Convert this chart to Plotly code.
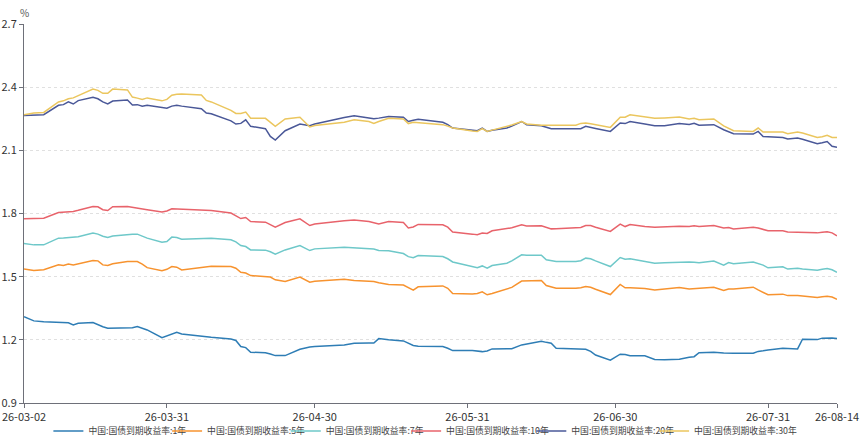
import plotly.graph_objects as go
import pandas as pd

start_date = "2026-03-02"
day_offsets = [0, 2, 4, 7, 8, 9, 10, 11, 14, 15, 16, 17, 18, 21, 22, 23, 24, 25, 28, 29,
               30, 31, 32, 36, 37, 38, 42, 43, 44, 45, 46, 49, 50, 51, 53, 56, 58, 59, 65, 67,
               70, 71, 72, 74, 77, 78, 79, 80, 85, 86, 87, 91, 92, 93, 94, 95, 98, 99, 101, 102,
               105, 106, 107, 108, 112, 113, 114, 115, 116, 119, 121, 122, 123, 126, 128, 130, 133, 135, 136, 137,
               140, 142, 143, 144, 148, 149, 150, 151, 154, 155, 157, 158, 161, 162, 163, 164, 165]

y1 = [1.310, 1.290, 1.286, 1.283, 1.282, 1.281, 1.271, 1.279, 1.282, 1.271, 1.262, 1.255, 1.256, 1.256, 1.257, 1.263, 1.255, 1.247, 1.210, 1.218,
      1.228, 1.236, 1.228, 1.216, 1.213, 1.212, 1.204, 1.197, 1.168, 1.163, 1.141, 1.139, 1.133, 1.125, 1.125, 1.155, 1.166, 1.168, 1.175, 1.184,
      1.185, 1.185, 1.206, 1.200, 1.195, 1.185, 1.173, 1.170, 1.168, 1.160, 1.149, 1.149, 1.146, 1.144, 1.147, 1.157, 1.158, 1.158, 1.176, 1.180,
      1.193, 1.188, 1.184, 1.160, 1.158, 1.158, 1.155, 1.145, 1.128, 1.103, 1.132, 1.130, 1.124, 1.124, 1.107, 1.105, 1.108, 1.117, 1.120, 1.139,
      1.141, 1.137, 1.136, 1.136, 1.136, 1.145, 1.148, 1.152, 1.160, 1.160, 1.157, 1.203, 1.201, 1.208, 1.210, 1.209, 1.206]

y5 = [1.537, 1.529, 1.533, 1.556, 1.553, 1.560, 1.555, 1.560, 1.577, 1.575, 1.556, 1.553, 1.561, 1.572, 1.572, 1.572, 1.560, 1.543, 1.528, 1.535,
      1.548, 1.545, 1.532, 1.546, 1.548, 1.550, 1.548, 1.540, 1.521, 1.517, 1.505, 1.499, 1.498, 1.485, 1.477, 1.498, 1.474, 1.478, 1.488, 1.482,
      1.479, 1.477, 1.471, 1.463, 1.460, 1.446, 1.436, 1.452, 1.456, 1.445, 1.420, 1.418, 1.420, 1.428, 1.414, 1.420, 1.440, 1.449, 1.479, 1.480,
      1.482, 1.458, 1.450, 1.445, 1.445, 1.447, 1.453, 1.450, 1.440, 1.415, 1.463, 1.447, 1.447, 1.444, 1.437, 1.441, 1.448, 1.441, 1.443, 1.445,
      1.450, 1.434, 1.441, 1.442, 1.450, 1.437, 1.426, 1.414, 1.417, 1.410, 1.410, 1.408, 1.401, 1.405, 1.407, 1.403, 1.393]

y7 = [1.657, 1.651, 1.651, 1.683, 1.684, 1.685, 1.686, 1.690, 1.707, 1.702, 1.692, 1.686, 1.693, 1.702, 1.702, 1.702, 1.692, 1.683, 1.664, 1.667,
      1.688, 1.686, 1.678, 1.682, 1.683, 1.683, 1.675, 1.665, 1.648, 1.643, 1.627, 1.626, 1.618, 1.607, 1.627, 1.648, 1.624, 1.632, 1.640, 1.638,
      1.633, 1.631, 1.624, 1.623, 1.610, 1.595, 1.590, 1.600, 1.596, 1.585, 1.570, 1.547, 1.543, 1.551, 1.540, 1.553, 1.564, 1.575, 1.604, 1.602,
      1.602, 1.580, 1.576, 1.572, 1.572, 1.576, 1.588, 1.585, 1.575, 1.548, 1.591, 1.583, 1.585, 1.573, 1.564, 1.566, 1.570, 1.570, 1.568, 1.566,
      1.574, 1.555, 1.567, 1.561, 1.570, 1.564, 1.555, 1.542, 1.547, 1.536, 1.540, 1.537, 1.531, 1.535, 1.539, 1.533, 1.521]

y10 = [1.775, 1.777, 1.778, 1.805, 1.806, 1.808, 1.810, 1.815, 1.833, 1.832, 1.818, 1.814, 1.832, 1.833, 1.830, 1.826, 1.821, 1.818, 1.807, 1.812,
       1.822, 1.821, 1.820, 1.816, 1.815, 1.814, 1.802, 1.790, 1.776, 1.781, 1.762, 1.759, 1.748, 1.735, 1.757, 1.775, 1.743, 1.750, 1.765, 1.769,
       1.762, 1.757, 1.750, 1.762, 1.757, 1.731, 1.736, 1.748, 1.746, 1.735, 1.712, 1.702, 1.699, 1.707, 1.705, 1.718, 1.726, 1.732, 1.746, 1.741,
       1.742, 1.733, 1.727, 1.728, 1.732, 1.734, 1.743, 1.743, 1.735, 1.715, 1.750, 1.738, 1.748, 1.738, 1.735, 1.737, 1.740, 1.738, 1.742, 1.738,
       1.743, 1.731, 1.733, 1.726, 1.735, 1.731, 1.725, 1.718, 1.718, 1.712, 1.711, 1.710, 1.708, 1.711, 1.713, 1.708, 1.694]

y20 = [2.266, 2.266, 2.269, 2.314, 2.317, 2.330, 2.320, 2.336, 2.352, 2.345, 2.330, 2.320, 2.334, 2.339, 2.315, 2.317, 2.309, 2.314, 2.302, 2.300,
       2.310, 2.314, 2.310, 2.298, 2.277, 2.274, 2.240, 2.225, 2.228, 2.245, 2.214, 2.203, 2.166, 2.149, 2.193, 2.225, 2.217, 2.225, 2.256, 2.264,
       2.254, 2.250, 2.253, 2.261, 2.257, 2.237, 2.243, 2.247, 2.233, 2.222, 2.206, 2.196, 2.193, 2.206, 2.190, 2.195, 2.206, 2.215, 2.237, 2.222,
       2.217, 2.210, 2.203, 2.203, 2.203, 2.203, 2.214, 2.208, 2.204, 2.190, 2.230, 2.227, 2.237, 2.225, 2.217, 2.217, 2.227, 2.223, 2.228, 2.219,
       2.222, 2.198, 2.190, 2.179, 2.177, 2.190, 2.166, 2.165, 2.161, 2.154, 2.158, 2.153, 2.131, 2.136, 2.142, 2.119, 2.114]

y30 = [2.269, 2.277, 2.280, 2.330, 2.335, 2.345, 2.349, 2.360, 2.391, 2.385, 2.371, 2.371, 2.391, 2.387, 2.353, 2.348, 2.342, 2.349, 2.335, 2.342,
       2.362, 2.366, 2.367, 2.363, 2.337, 2.330, 2.290, 2.275, 2.275, 2.282, 2.252, 2.252, 2.235, 2.214, 2.249, 2.257, 2.211, 2.218, 2.233, 2.245,
       2.237, 2.228, 2.237, 2.252, 2.249, 2.227, 2.233, 2.231, 2.222, 2.215, 2.206, 2.192, 2.190, 2.203, 2.190, 2.196, 2.214, 2.220, 2.237, 2.225,
       2.219, 2.219, 2.219, 2.222, 2.219, 2.228, 2.230, 2.226, 2.222, 2.209, 2.257, 2.257, 2.269, 2.258, 2.252, 2.254, 2.258, 2.249, 2.252, 2.245,
       2.249, 2.216, 2.206, 2.193, 2.190, 2.206, 2.187, 2.187, 2.187, 2.179, 2.187, 2.182, 2.161, 2.165, 2.171, 2.161, 2.161]

series_names = ["中国:国债到期收益率:1年", "中国:国债到期收益率:5年", "中国:国债到期收益率:7年",
                "中国:国债到期收益率:10年", "中国:国债到期收益率:20年", "中国:国债到期收益率:30年"]
series_values = [y1, y5, y7, y10, y20, y30]
colors = ["#2e7db5", "#f7932f", "#6ec8c9", "#e8636b", "#4a5898", "#ebc65e"]

x_tick_dates = ["2026-03-02", "2026-03-31", "2026-04-30", "2026-05-31", "2026-06-30", "2026-07-31", "2026-08-14"]
x_tick_labels = ["26-03-02", "26-03-31", "26-04-30", "26-05-31", "26-06-30", "26-07-31", "26-08-14"]
y_ticks = [0.9, 1.2, 1.5, 1.8, 2.1, 2.4, 2.7]

dates = pd.Timestamp(start_date) + pd.to_timedelta(day_offsets, unit="D")

font_family = "Noto Sans CJK SC, Noto Sans, sans-serif"

# legend entry positions (fraction of plot width), one legend per series
legend_x = [0.030, 0.176, 0.322, 0.470, 0.624, 0.775]

fig = go.Figure()
legend_layouts = {}
for i, (name, vals, col) in enumerate(zip(series_names, series_values, colors)):
    key = "legend" if i == 0 else f"legend{i + 1}"
    fig.add_trace(go.Scatter(x=dates, y=vals, mode="lines", name=name,
                             line=dict(color=col, width=1.5), legend=key))
    legend_layouts[key] = dict(orientation="h", x=legend_x[i], xanchor="left",
                               y=-0.074, yanchor="middle", itemwidth=30,
                               font=dict(size=8.8, color="#444"),
                               bgcolor="rgba(0,0,0,0)", borderwidth=0)

fig.update_layout(
    width=865, height=439,
    margin=dict(l=24, r=28, t=24, b=36, autoexpand=False),
    paper_bgcolor="white", plot_bgcolor="white",
    font=dict(family=font_family, size=11, color="#333"),
    showlegend=True,
    xaxis=dict(type="date", range=[pd.Timestamp("2026-03-02"), pd.Timestamp("2026-08-14")],
               tickvals=[pd.Timestamp(d) for d in x_tick_dates], ticktext=x_tick_labels,
               showgrid=False, showline=True, linecolor="#6e7079", linewidth=1,
               ticks="outside", ticklen=4, tickcolor="#6e7079", automargin=False,
               tickfont=dict(size=11, color="#333"), zeroline=False),
    yaxis=dict(range=[0.9, 2.7], tickvals=y_ticks, ticktext=[f"{v:.1f}" for v in y_ticks],
               showgrid=True, gridcolor="#e0e0e0", griddash="dot", gridwidth=1,
               showline=True, linecolor="#6e7079", linewidth=1, automargin=False,
               ticks="outside", ticklen=4, tickcolor="#6e7079",
               tickfont=dict(size=11, color="#333"), zeroline=False),
    annotations=[dict(text="%", xref="paper", yref="paper", x=0, y=1, xanchor="center",
                      yanchor="bottom", yshift=2, showarrow=False,
                      font=dict(size=10, color="#555"))],
    **legend_layouts,
)

fig.write_html("out.html", config={"displayModeBar": False},
               post_script="document.body.style.margin='0';")
